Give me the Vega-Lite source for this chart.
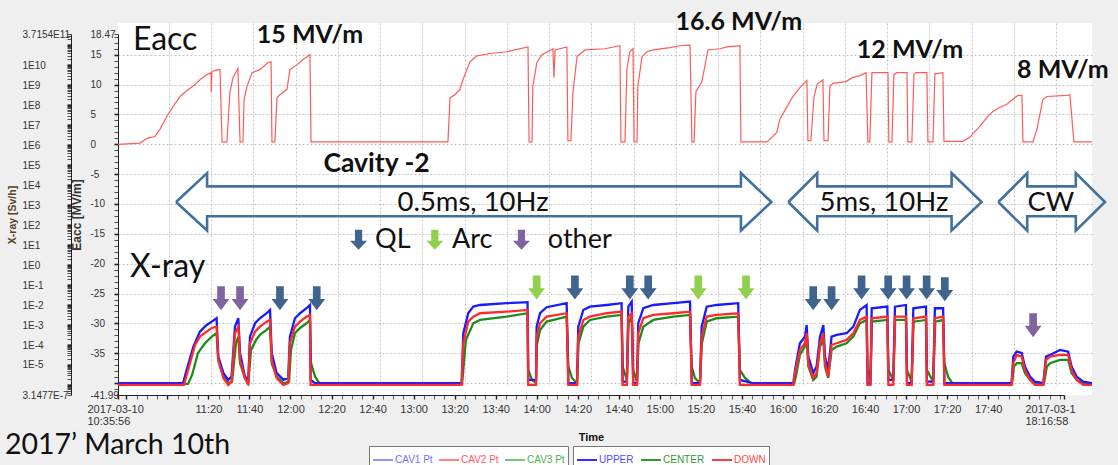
{
  "$schema": "https://vega.github.io/schema/vega-lite/v6.json",
  "width": 974,
  "height": 372,
  "autosize": {"type": "none"},
  "padding": {"left": 118, "top": 23, "right": 26, "bottom": 70},
  "background": "#efefef",
  "config": {
    "view": {"fill": "white", "stroke": null},
    "axis": {"domainColor": "#222", "tickColor": "#222", "labelColor": "#333"}
  },
  "datasets": {
    "eacc": [
      {"m": 35.9, "e": 0}, {"m": 46.3, "e": 0.2}, {"m": 49.7, "e": 1.0}, {"m": 53.4, "e": 1.3}, {"m": 55.8, "e": 2.5},
      {"m": 59.1, "e": 4.7}, {"m": 62.0, "e": 6.3}, {"m": 65.3, "e": 8.0}, {"m": 68.6, "e": 9.0}, {"m": 71.4, "e": 9.7},
      {"m": 74.7, "e": 10.8}, {"m": 78.1, "e": 11.7}, {"m": 80.0, "e": 12.0}, {"m": 80.1, "e": 8.7}, {"m": 80.4, "e": 12.2},
      {"m": 83.3, "e": 12.5}, {"m": 84.2, "e": 12.5}, {"m": 85.2, "e": 0.4}, {"m": 87.5, "e": 0.4}, {"m": 88.9, "e": 8.7},
      {"m": 90.4, "e": 11.2}, {"m": 92.7, "e": 12.7}, {"m": 93.7, "e": 0.4}, {"m": 95.1, "e": 0.4}, {"m": 95.6, "e": 7.5},
      {"m": 97.0, "e": 9.7}, {"m": 99.4, "e": 12.0}, {"m": 103.1, "e": 12.5}, {"m": 106.9, "e": 13.7}, {"m": 108.4, "e": 13.8},
      {"m": 108.8, "e": 0.4}, {"m": 110.2, "e": 0.4}, {"m": 111.2, "e": 7.8}, {"m": 112.6, "e": 8.3}, {"m": 115.9, "e": 9.2},
      {"m": 117.3, "e": 12.5}, {"m": 120.6, "e": 13.3}, {"m": 123.5, "e": 14.2}, {"m": 126.8, "e": 15.0}, {"m": 127.3, "e": 0.4},
      {"m": 192.1, "e": 0.4}, {"m": 193.1, "e": 7.8}, {"m": 195.4, "e": 8.3}, {"m": 197.8, "e": 9.2}, {"m": 199.2, "e": 10.8},
      {"m": 202.5, "e": 13.8}, {"m": 205.8, "e": 14.8}, {"m": 212.0, "e": 15.2}, {"m": 220.0, "e": 15.5}, {"m": 230.0, "e": 16.3},
      {"m": 230.5, "e": 0.4}, {"m": 231.9, "e": 0.4}, {"m": 232.3, "e": 9.7}, {"m": 234.2, "e": 13.7}, {"m": 236.6, "e": 15.0},
      {"m": 241.8, "e": 16.0}, {"m": 242.3, "e": 11.2}, {"m": 242.8, "e": 15.8}, {"m": 248.4, "e": 16.3}, {"m": 248.9, "e": 0.6},
      {"m": 250.3, "e": 0.6}, {"m": 251.3, "e": 8.7}, {"m": 253.2, "e": 14.7}, {"m": 257.0, "e": 15.8}, {"m": 266.4, "e": 16.0},
      {"m": 273.5, "e": 16.5}, {"m": 274.0, "e": 0.4}, {"m": 275.9, "e": 0.4}, {"m": 276.8, "e": 12.5}, {"m": 278.2, "e": 15.5},
      {"m": 279.7, "e": 16.0}, {"m": 280.2, "e": 0.4}, {"m": 281.6, "e": 0.4}, {"m": 282.0, "e": 9.7}, {"m": 284.0, "e": 14.7},
      {"m": 286.3, "e": 15.5}, {"m": 289.2, "e": 15.8}, {"m": 297.2, "e": 16.2}, {"m": 301.9, "e": 16.5}, {"m": 306.7, "e": 16.6},
      {"m": 307.6, "e": 0.4}, {"m": 308.6, "e": 0.4}, {"m": 309.5, "e": 8.8}, {"m": 312.3, "e": 10.5}, {"m": 315.2, "e": 15.8},
      {"m": 320.9, "e": 16.0}, {"m": 324.2, "e": 16.3}, {"m": 330.3, "e": 16.5}, {"m": 330.8, "e": 0.4}, {"m": 343.1, "e": 0.4},
      {"m": 345.5, "e": 1.2}, {"m": 347.8, "e": 2.0}, {"m": 349.2, "e": 4.2}, {"m": 352.6, "e": 6.3}, {"m": 355.4, "e": 8.0},
      {"m": 358.7, "e": 9.5}, {"m": 362.0, "e": 10.7}, {"m": 362.5, "e": 0.6}, {"m": 363.9, "e": 0.6}, {"m": 365.4, "e": 8.0},
      {"m": 366.8, "e": 10.0}, {"m": 369.6, "e": 10.8}, {"m": 370.1, "e": 0.6}, {"m": 372.0, "e": 0.6}, {"m": 372.9, "e": 9.7},
      {"m": 374.3, "e": 10.2}, {"m": 380.5, "e": 10.5}, {"m": 383.8, "e": 11.2}, {"m": 387.1, "e": 11.5}, {"m": 390.0, "e": 12.0},
      {"m": 390.9, "e": 0.4}, {"m": 391.8, "e": 0.4}, {"m": 392.8, "e": 12.0}, {"m": 400.4, "e": 12.0}, {"m": 400.8, "e": 0.4},
      {"m": 402.3, "e": 0.4}, {"m": 403.2, "e": 11.7}, {"m": 404.6, "e": 12.0}, {"m": 409.4, "e": 12.0}, {"m": 409.8, "e": 0.4},
      {"m": 411.7, "e": 0.4}, {"m": 412.7, "e": 11.7}, {"m": 413.6, "e": 12.0}, {"m": 418.8, "e": 12.0}, {"m": 419.3, "e": 0.4},
      {"m": 421.7, "e": 0.4}, {"m": 422.6, "e": 11.8}, {"m": 426.4, "e": 12.0}, {"m": 426.9, "e": 0.5}, {"m": 435.9, "e": 0.5},
      {"m": 439.2, "e": 1.2}, {"m": 442.5, "e": 2.5}, {"m": 443.9, "e": 3.0}, {"m": 447.2, "e": 4.5}, {"m": 450.1, "e": 5.5},
      {"m": 453.4, "e": 6.2}, {"m": 456.7, "e": 6.7}, {"m": 459.5, "e": 7.5}, {"m": 461.9, "e": 8.2}, {"m": 463.8, "e": 8.2},
      {"m": 464.3, "e": 0.4}, {"m": 469.0, "e": 0.4}, {"m": 470.9, "e": 2.5}, {"m": 473.7, "e": 7.5}, {"m": 475.6, "e": 8.0},
      {"m": 485.1, "e": 8.2}, {"m": 486.5, "e": 8.3}, {"m": 488.4, "e": 0.4}, {"m": 496.9, "e": 0.4}
    ],
    "upper": [
      {"m": 35.9, "v": 1.22e-6}, {"m": 66.7, "v": 1.22e-6}, {"m": 68.4, "v": 5.66e-6}, {"m": 71.6, "v": 8.32e-5}, {"m": 74.7, "v": 4.68e-4},
      {"m": 77.9, "v": 1.01e-3}, {"m": 80.3, "v": 1.48e-3}, {"m": 82.6, "v": 2.19e-3}, {"m": 83.4, "v": 2.62e-5}, {"m": 85.8, "v": 4.01e-6},
      {"m": 88.1, "v": 1.79e-6}, {"m": 89.7, "v": 2.62e-6}, {"m": 91.3, "v": 8.34e-4}, {"m": 92.9, "v": 2.19e-3}, {"m": 93.7, "v": 4.02e-5},
      {"m": 96.0, "v": 2.62e-6}, {"m": 97.6, "v": 1.79e-6}, {"m": 98.4, "v": 2.63e-4}, {"m": 100.8, "v": 1.23e-3}, {"m": 103.1, "v": 2.19e-3},
      {"m": 106.3, "v": 3.90e-3}, {"m": 107.9, "v": 5.70e-3}, {"m": 108.7, "v": 4.02e-5}, {"m": 111.0, "v": 4.01e-6}, {"m": 114.2, "v": 1.79e-6},
      {"m": 116.5, "v": 2.25e-6}, {"m": 117.3, "v": 2.63e-4}, {"m": 119.7, "v": 2.19e-3}, {"m": 122.1, "v": 3.90e-3}, {"m": 125.2, "v": 6.93e-3},
      {"m": 126.8, "v": 1.01e-2}, {"m": 127.1, "v": 1.79e-6}, {"m": 129.2, "v": 1.22e-6}, {"m": 198.6, "v": 1.22e-6}, {"m": 199.4, "v": 3.89e-4},
      {"m": 201.7, "v": 3.90e-3}, {"m": 204.1, "v": 8.34e-3}, {"m": 207.3, "v": 1.01e-2}, {"m": 219.9, "v": 1.24e-2}, {"m": 229.8, "v": 1.39e-2},
      {"m": 230.1, "v": 1.79e-6}, {"m": 233.8, "v": 1.79e-6}, {"m": 234.1, "v": 8.34e-4}, {"m": 235.7, "v": 3.90e-3}, {"m": 238.8, "v": 7.78e-3},
      {"m": 248.3, "v": 1.24e-2}, {"m": 249.1, "v": 1.22e-6}, {"m": 253.2, "v": 1.22e-6}, {"m": 253.8, "v": 8.34e-4}, {"m": 256.2, "v": 5.70e-3},
      {"m": 259.3, "v": 8.34e-3}, {"m": 267.2, "v": 1.01e-2}, {"m": 274.3, "v": 1.24e-2}, {"m": 274.8, "v": 1.47e-6}, {"m": 276.8, "v": 1.47e-6},
      {"m": 277.5, "v": 8.34e-3}, {"m": 279.1, "v": 1.49e-2}, {"m": 279.8, "v": 1.22e-6}, {"m": 281.6, "v": 1.22e-6}, {"m": 282.2, "v": 1.23e-3},
      {"m": 284.6, "v": 6.93e-3}, {"m": 289.3, "v": 1.01e-2}, {"m": 298.8, "v": 1.24e-2}, {"m": 306.7, "v": 1.49e-2}, {"m": 307.5, "v": 1.22e-6},
      {"m": 311.4, "v": 1.22e-6}, {"m": 312.2, "v": 8.34e-4}, {"m": 314.6, "v": 8.34e-3}, {"m": 319.3, "v": 1.01e-2}, {"m": 329.5, "v": 1.24e-2},
      {"m": 330.3, "v": 1.79e-6}, {"m": 336.6, "v": 1.22e-6}, {"m": 355.6, "v": 1.22e-6}, {"m": 356.4, "v": 5.66e-6}, {"m": 358.7, "v": 1.23e-4},
      {"m": 361.1, "v": 2.63e-4}, {"m": 361.9, "v": 1.01e-3}, {"m": 362.7, "v": 2.62e-5}, {"m": 365.0, "v": 4.01e-6}, {"m": 366.6, "v": 8.30e-6},
      {"m": 368.2, "v": 2.63e-4}, {"m": 369.8, "v": 1.01e-3}, {"m": 370.6, "v": 2.62e-5}, {"m": 372.1, "v": 5.66e-6}, {"m": 373.7, "v": 2.63e-4},
      {"m": 376.1, "v": 3.20e-4}, {"m": 380.8, "v": 3.89e-4}, {"m": 384.0, "v": 8.34e-4}, {"m": 387.1, "v": 5.70e-3}, {"m": 390.3, "v": 1.01e-2},
      {"m": 390.7, "v": 1.22e-6}, {"m": 392.1, "v": 1.22e-6}, {"m": 392.7, "v": 6.93e-3}, {"m": 400.1, "v": 8.34e-3}, {"m": 400.6, "v": 1.79e-6},
      {"m": 402.9, "v": 1.79e-6}, {"m": 403.7, "v": 8.34e-3}, {"m": 408.9, "v": 1.01e-2}, {"m": 409.4, "v": 1.22e-6}, {"m": 411.6, "v": 1.22e-6},
      {"m": 412.4, "v": 6.93e-3}, {"m": 418.4, "v": 8.34e-3}, {"m": 418.8, "v": 1.47e-6}, {"m": 421.8, "v": 1.47e-6}, {"m": 422.6, "v": 6.93e-3},
      {"m": 426.5, "v": 6.93e-3}, {"m": 427.1, "v": 1.22e-6}, {"m": 458.9, "v": 1.22e-6}, {"m": 459.7, "v": 2.62e-5}, {"m": 461.3, "v": 4.67e-5},
      {"m": 463.7, "v": 4.02e-5}, {"m": 465.2, "v": 8.30e-6}, {"m": 467.6, "v": 2.62e-6}, {"m": 469.9, "v": 1.47e-6}, {"m": 473.9, "v": 1.22e-6},
      {"m": 475.2, "v": 2.62e-5}, {"m": 477.1, "v": 3.19e-5}, {"m": 481.8, "v": 5.68e-5}, {"m": 485.7, "v": 4.67e-5}, {"m": 487.3, "v": 8.30e-6},
      {"m": 489.7, "v": 2.62e-6}, {"m": 492.8, "v": 1.47e-6}, {"m": 496.9, "v": 1.22e-6}
    ],
    "down": [
      {"m": 35.9, "v": 1.01e-6}, {"m": 67.2, "v": 1.01e-6}, {"m": 69.1, "v": 5.66e-6}, {"m": 72.4, "v": 1.01e-4}, {"m": 74.7, "v": 2.63e-4},
      {"m": 77.9, "v": 4.68e-4}, {"m": 80.3, "v": 7.16e-4}, {"m": 82.6, "v": 8.34e-4}, {"m": 83.4, "v": 1.79e-5}, {"m": 85.8, "v": 2.25e-6},
      {"m": 88.1, "v": 1.01e-6}, {"m": 89.7, "v": 1.47e-6}, {"m": 91.3, "v": 3.89e-4}, {"m": 92.9, "v": 8.34e-4}, {"m": 93.7, "v": 1.79e-5},
      {"m": 96.0, "v": 2.25e-6}, {"m": 97.6, "v": 1.01e-6}, {"m": 98.4, "v": 1.23e-4}, {"m": 100.8, "v": 4.68e-4}, {"m": 103.1, "v": 8.34e-4},
      {"m": 106.3, "v": 1.48e-3}, {"m": 107.9, "v": 1.80e-3}, {"m": 108.7, "v": 1.79e-5}, {"m": 111.0, "v": 2.25e-6}, {"m": 114.2, "v": 1.01e-6},
      {"m": 116.5, "v": 1.22e-6}, {"m": 117.3, "v": 1.23e-4}, {"m": 119.7, "v": 8.34e-4}, {"m": 122.1, "v": 1.48e-3}, {"m": 125.2, "v": 2.64e-3},
      {"m": 126.8, "v": 3.21e-3}, {"m": 127.1, "v": 1.01e-6}, {"m": 198.6, "v": 1.01e-6}, {"m": 199.4, "v": 1.23e-4}, {"m": 201.7, "v": 1.48e-3},
      {"m": 204.1, "v": 2.64e-3}, {"m": 207.3, "v": 3.90e-3}, {"m": 219.9, "v": 4.69e-3}, {"m": 229.8, "v": 5.70e-3}, {"m": 230.1, "v": 1.01e-6},
      {"m": 233.8, "v": 1.01e-6}, {"m": 234.1, "v": 2.63e-4}, {"m": 235.7, "v": 1.23e-3}, {"m": 238.8, "v": 2.64e-3}, {"m": 248.3, "v": 3.90e-3},
      {"m": 249.1, "v": 1.01e-6}, {"m": 253.2, "v": 1.01e-6}, {"m": 253.8, "v": 2.63e-4}, {"m": 256.2, "v": 1.80e-3}, {"m": 259.3, "v": 2.64e-3},
      {"m": 267.2, "v": 3.90e-3}, {"m": 274.3, "v": 4.69e-3}, {"m": 274.8, "v": 1.01e-6}, {"m": 276.8, "v": 1.01e-6}, {"m": 277.5, "v": 2.64e-3},
      {"m": 279.1, "v": 3.90e-3}, {"m": 279.8, "v": 1.01e-6}, {"m": 281.6, "v": 1.01e-6}, {"m": 282.2, "v": 3.89e-4}, {"m": 284.6, "v": 2.19e-3},
      {"m": 289.3, "v": 3.21e-3}, {"m": 298.8, "v": 3.90e-3}, {"m": 306.7, "v": 4.69e-3}, {"m": 307.5, "v": 1.01e-6}, {"m": 311.4, "v": 1.01e-6},
      {"m": 312.2, "v": 2.63e-4}, {"m": 314.6, "v": 2.64e-3}, {"m": 319.3, "v": 3.21e-3}, {"m": 329.5, "v": 3.90e-3}, {"m": 330.3, "v": 1.01e-6},
      {"m": 355.6, "v": 1.01e-6}, {"m": 356.4, "v": 4.01e-6}, {"m": 358.7, "v": 5.68e-5}, {"m": 361.1, "v": 1.23e-4}, {"m": 361.9, "v": 3.89e-4},
      {"m": 362.7, "v": 1.23e-5}, {"m": 365.0, "v": 2.25e-6}, {"m": 366.6, "v": 4.01e-6}, {"m": 368.2, "v": 1.23e-4}, {"m": 369.8, "v": 3.89e-4},
      {"m": 370.6, "v": 1.23e-5}, {"m": 372.1, "v": 2.62e-6}, {"m": 373.7, "v": 1.01e-4}, {"m": 376.1, "v": 1.23e-4}, {"m": 380.8, "v": 1.80e-4},
      {"m": 384.0, "v": 3.89e-4}, {"m": 387.1, "v": 1.80e-3}, {"m": 390.3, "v": 2.64e-3}, {"m": 390.7, "v": 1.01e-6}, {"m": 392.1, "v": 1.01e-6},
      {"m": 392.7, "v": 2.19e-3}, {"m": 400.1, "v": 2.64e-3}, {"m": 400.6, "v": 1.01e-6}, {"m": 402.9, "v": 1.01e-6}, {"m": 403.7, "v": 2.64e-3},
      {"m": 408.9, "v": 2.64e-3}, {"m": 409.4, "v": 1.01e-6}, {"m": 411.6, "v": 1.01e-6}, {"m": 412.4, "v": 2.19e-3}, {"m": 418.4, "v": 2.64e-3},
      {"m": 418.8, "v": 1.01e-6}, {"m": 421.8, "v": 1.01e-6}, {"m": 422.6, "v": 2.19e-3}, {"m": 426.5, "v": 2.64e-3}, {"m": 427.1, "v": 1.01e-6},
      {"m": 458.9, "v": 1.01e-6}, {"m": 459.7, "v": 1.23e-5}, {"m": 461.3, "v": 3.19e-5}, {"m": 463.7, "v": 2.62e-5}, {"m": 465.2, "v": 5.66e-6},
      {"m": 467.6, "v": 1.79e-6}, {"m": 469.9, "v": 1.01e-6}, {"m": 473.9, "v": 1.01e-6}, {"m": 475.2, "v": 1.79e-5}, {"m": 477.1, "v": 2.62e-5},
      {"m": 481.8, "v": 3.19e-5}, {"m": 485.7, "v": 3.19e-5}, {"m": 487.3, "v": 5.66e-6}, {"m": 489.7, "v": 1.79e-6}, {"m": 492.8, "v": 1.01e-6},
      {"m": 496.9, "v": 1.01e-6}
    ],
    "center": [
      {"m": 35.9, "v": 1.13e-6}, {"m": 69.1, "v": 1.13e-6}, {"m": 71.0, "v": 3.18e-6}, {"m": 73.8, "v": 4.02e-5}, {"m": 77.1, "v": 1.23e-4},
      {"m": 80.3, "v": 2.63e-4}, {"m": 82.6, "v": 3.89e-4}, {"m": 83.4, "v": 1.79e-5}, {"m": 85.8, "v": 2.62e-6}, {"m": 88.1, "v": 1.22e-6},
      {"m": 89.9, "v": 1.47e-6}, {"m": 91.8, "v": 1.23e-4}, {"m": 92.9, "v": 2.63e-4}, {"m": 93.7, "v": 1.23e-5}, {"m": 96.0, "v": 2.25e-6},
      {"m": 97.6, "v": 1.22e-6}, {"m": 98.9, "v": 5.68e-5}, {"m": 101.3, "v": 1.80e-4}, {"m": 103.1, "v": 3.20e-4}, {"m": 106.3, "v": 5.69e-4},
      {"m": 107.9, "v": 8.34e-4}, {"m": 108.7, "v": 1.23e-5}, {"m": 111.0, "v": 2.62e-6}, {"m": 114.2, "v": 1.22e-6}, {"m": 116.9, "v": 1.47e-6},
      {"m": 117.8, "v": 5.68e-5}, {"m": 119.7, "v": 3.89e-4}, {"m": 122.1, "v": 7.16e-4}, {"m": 125.2, "v": 1.23e-3}, {"m": 126.8, "v": 1.80e-3},
      {"m": 127.3, "v": 1.23e-5}, {"m": 129.2, "v": 2.62e-6}, {"m": 131.5, "v": 1.13e-6}, {"m": 198.8, "v": 1.13e-6}, {"m": 200.6, "v": 1.80e-4},
      {"m": 204.1, "v": 1.23e-3}, {"m": 207.3, "v": 1.80e-3}, {"m": 219.9, "v": 2.64e-3}, {"m": 229.8, "v": 3.90e-3}, {"m": 230.1, "v": 5.66e-6},
      {"m": 231.9, "v": 1.79e-6}, {"m": 233.8, "v": 1.22e-6}, {"m": 234.2, "v": 1.01e-4}, {"m": 235.7, "v": 5.69e-4}, {"m": 238.8, "v": 1.48e-3},
      {"m": 248.3, "v": 2.64e-3}, {"m": 249.1, "v": 8.30e-6}, {"m": 250.8, "v": 2.25e-6}, {"m": 253.2, "v": 1.22e-6}, {"m": 253.9, "v": 1.23e-4},
      {"m": 256.2, "v": 8.34e-4}, {"m": 259.3, "v": 1.80e-3}, {"m": 267.2, "v": 2.64e-3}, {"m": 274.3, "v": 3.21e-3}, {"m": 274.8, "v": 8.30e-6},
      {"m": 276.8, "v": 1.79e-6}, {"m": 277.6, "v": 1.23e-3}, {"m": 279.1, "v": 2.64e-3}, {"m": 279.8, "v": 5.66e-6}, {"m": 281.6, "v": 1.47e-6},
      {"m": 282.3, "v": 1.23e-4}, {"m": 284.6, "v": 8.34e-4}, {"m": 289.3, "v": 1.80e-3}, {"m": 298.8, "v": 2.64e-3}, {"m": 306.7, "v": 3.21e-3},
      {"m": 307.5, "v": 8.30e-6}, {"m": 309.0, "v": 2.25e-6}, {"m": 311.4, "v": 1.22e-6}, {"m": 312.3, "v": 1.23e-4}, {"m": 314.6, "v": 1.48e-3},
      {"m": 319.3, "v": 2.19e-3}, {"m": 329.5, "v": 2.64e-3}, {"m": 330.3, "v": 5.66e-6}, {"m": 332.7, "v": 2.25e-6}, {"m": 336.0, "v": 1.13e-6},
      {"m": 355.9, "v": 1.13e-6}, {"m": 356.8, "v": 2.62e-6}, {"m": 358.7, "v": 3.19e-5}, {"m": 361.1, "v": 8.32e-5}, {"m": 361.9, "v": 1.80e-4},
      {"m": 362.7, "v": 8.30e-6}, {"m": 365.0, "v": 1.79e-6}, {"m": 366.6, "v": 2.62e-6}, {"m": 368.2, "v": 8.32e-5}, {"m": 369.8, "v": 1.80e-4},
      {"m": 370.6, "v": 8.30e-6}, {"m": 372.1, "v": 2.25e-6}, {"m": 373.7, "v": 5.68e-5}, {"m": 376.1, "v": 8.32e-5}, {"m": 380.8, "v": 1.23e-4},
      {"m": 384.0, "v": 2.63e-4}, {"m": 387.1, "v": 1.23e-3}, {"m": 390.3, "v": 1.80e-3}, {"m": 390.7, "v": 5.66e-6}, {"m": 392.1, "v": 1.79e-6},
      {"m": 392.8, "v": 1.48e-3}, {"m": 400.1, "v": 1.80e-3}, {"m": 400.6, "v": 5.66e-6}, {"m": 402.9, "v": 1.79e-6}, {"m": 403.8, "v": 1.80e-3},
      {"m": 408.9, "v": 1.80e-3}, {"m": 409.4, "v": 5.66e-6}, {"m": 411.6, "v": 1.47e-6}, {"m": 412.5, "v": 1.48e-3}, {"m": 418.4, "v": 1.80e-3},
      {"m": 418.8, "v": 5.66e-6}, {"m": 421.8, "v": 1.47e-6}, {"m": 422.8, "v": 1.48e-3}, {"m": 426.5, "v": 1.80e-3}, {"m": 427.1, "v": 1.23e-5},
      {"m": 428.8, "v": 2.62e-6}, {"m": 431.1, "v": 1.13e-6}, {"m": 459.1, "v": 1.13e-6}, {"m": 460.0, "v": 8.30e-6}, {"m": 461.4, "v": 1.23e-5},
      {"m": 463.7, "v": 1.23e-5}, {"m": 465.2, "v": 4.01e-6}, {"m": 467.6, "v": 1.79e-6}, {"m": 470.9, "v": 1.13e-6}, {"m": 474.2, "v": 1.13e-6},
      {"m": 475.6, "v": 8.30e-6}, {"m": 477.1, "v": 1.23e-5}, {"m": 481.8, "v": 1.79e-5}, {"m": 485.7, "v": 1.79e-5}, {"m": 487.3, "v": 4.01e-6},
      {"m": 489.7, "v": 1.79e-6}, {"m": 493.6, "v": 1.13e-6}, {"m": 496.9, "v": 1.13e-6}
    ],
    "spans": [
      {"id": "A", "k": 1, "m": 63.4, "e": -9.67}, {"id": "A", "k": 2, "m": 78.1, "e": -4.83}, {"id": "A", "k": 3, "m": 78.1, "e": -7.05},
      {"id": "A", "k": 4, "m": 330.8, "e": -7.05}, {"id": "A", "k": 5, "m": 330.8, "e": -4.83}, {"id": "A", "k": 6, "m": 345.2, "e": -9.67},
      {"id": "A", "k": 7, "m": 330.8, "e": -14.45}, {"id": "A", "k": 8, "m": 330.8, "e": -12.05}, {"id": "A", "k": 9, "m": 78.1, "e": -12.05},
      {"id": "A", "k": 10, "m": 78.1, "e": -14.45}, {"id": "A", "k": 11, "m": 63.4, "e": -9.67},
      {"id": "B", "k": 1, "m": 353.2, "e": -9.67}, {"id": "B", "k": 2, "m": 366.9, "e": -4.83}, {"id": "B", "k": 3, "m": 366.9, "e": -7.05},
      {"id": "B", "k": 4, "m": 430.5, "e": -7.05}, {"id": "B", "k": 5, "m": 430.5, "e": -4.83}, {"id": "B", "k": 6, "m": 444.7, "e": -9.67},
      {"id": "B", "k": 7, "m": 430.5, "e": -14.45}, {"id": "B", "k": 8, "m": 430.5, "e": -12.05}, {"id": "B", "k": 9, "m": 366.9, "e": -12.05},
      {"id": "B", "k": 10, "m": 366.9, "e": -14.45}, {"id": "B", "k": 11, "m": 353.2, "e": -9.67},
      {"id": "C", "k": 1, "m": 452.6, "e": -9.67}, {"id": "C", "k": 2, "m": 466.3, "e": -4.83}, {"id": "C", "k": 3, "m": 466.3, "e": -7.05},
      {"id": "C", "k": 4, "m": 489.3, "e": -7.05}, {"id": "C", "k": 5, "m": 489.3, "e": -4.83}, {"id": "C", "k": 6, "m": 503.1, "e": -9.67},
      {"id": "C", "k": 7, "m": 489.3, "e": -14.45}, {"id": "C", "k": 8, "m": 489.3, "e": -12.05}, {"id": "C", "k": 9, "m": 466.3, "e": -12.05},
      {"id": "C", "k": 10, "m": 466.3, "e": -14.45}, {"id": "C", "k": 11, "m": 452.6, "e": -9.67}
    ],
    "events": [
      {"m": 84.7, "e": -25.8, "cause": "other"}, {"m": 93.7, "e": -25.8, "cause": "other"},
      {"m": 112.6, "e": -25.8, "cause": "QL"}, {"m": 130.0, "e": -25.8, "cause": "QL"},
      {"m": 234.1, "e": -24.0, "cause": "Arc"}, {"m": 252.2, "e": -24.0, "cause": "QL"},
      {"m": 278.2, "e": -24.0, "cause": "QL"}, {"m": 286.9, "e": -24.0, "cause": "QL"},
      {"m": 310.6, "e": -24.0, "cause": "Arc"}, {"m": 333.2, "e": -24.0, "cause": "Arc"},
      {"m": 365.0, "e": -25.8, "cause": "QL"}, {"m": 373.7, "e": -25.8, "cause": "QL"},
      {"m": 387.9, "e": -24.0, "cause": "QL"}, {"m": 400.5, "e": -24.0, "cause": "QL"},
      {"m": 409.2, "e": -24.0, "cause": "QL"}, {"m": 418.7, "e": -24.0, "cause": "QL"},
      {"m": 427.3, "e": -24.3, "cause": "QL"}, {"m": 469.1, "e": -30.3, "cause": "other"}
    ],
    "causeKey": [
      {"m": 149.8, "e": -16, "cause": "QL"}, {"m": 185.9, "e": -16, "cause": "Arc"}, {"m": 226.9, "e": -16, "cause": "other"}
    ],
    "notes": [
      {"txt": "Eacc", "m": 43.0, "e": 17.5, "role": "big"},
      {"txt": "X-ray", "m": 41.6, "e": -20.5, "role": "big"},
      {"txt": "15 MV/m", "m": 126.8, "e": 18.3, "role": "field"},
      {"txt": "16.6 MV/m", "m": 329.8, "e": 20.5, "role": "field"},
      {"txt": "12 MV/m", "m": 410.8, "e": 15.8, "role": "field"},
      {"txt": "8 MV/m", "m": 483.2, "e": 12.5, "role": "field"},
      {"txt": "Cavity -2", "m": 158.3, "e": -3.33, "role": "cavity"},
      {"txt": "0.5ms, 10Hz", "m": 204.0, "e": -9.83, "role": "mode"},
      {"txt": "5ms, 10Hz", "m": 398.5, "e": -9.83, "role": "mode"},
      {"txt": "CW", "m": 477.5, "e": -9.83, "role": "mode"},
      {"txt": "QL", "m": 157.6, "e": -16, "role": "key"},
      {"txt": "Arc", "m": 194.0, "e": -16, "role": "key"},
      {"txt": "other", "m": 239.4, "e": -16, "role": "key"},
      {"txt": "2017’ March 10th", "m": -17.6, "e": -50.4, "role": "date"}
    ]
  },
  "resolve": {"scale": {"x": "independent", "y": "independent"}},
  "layer": [
    {
      "encoding": {
        "x": {
          "field": "m", "type": "quantitative",
          "scale": {"domain": [35.933, 496.967], "nice": false, "zero": false},
          "axis": {
            "values": [60, 80, 100, 120, 140, 160, 180, 200, 220, 240, 260, 280, 300, 320, 340, 360, 380, 400, 420, 440, 460, 480],
            "grid": true, "gridColor": "#c4c4c4", "gridDash": [2, 2], "gridWidth": 1,
            "ticks": false, "labels": false, "domain": false, "title": null
          }
        },
        "y": {
          "field": "e", "type": "quantitative",
          "scale": {"domain": [-41.99, 18.47], "range": [372, 11], "nice": false, "zero": false},
          "axis": {
            "orient": "left",
            "values": [18.47, 18, 17, 16, 15, 14, 13, 12, 11, 10, 9, 8, 7, 6, 5, 4, 3, 2, 1, 0, -1, -2, -3, -4, -5, -6, -7, -8, -9, -10, -11, -12, -13, -14, -15, -16, -17, -18, -19, -20, -21, -22, -23, -24, -25, -26, -27, -28, -29, -30, -31, -32, -33, -34, -35, -36, -37, -38, -39, -40, -41, -41.99],
            "labelExpr": "(datum.value == 18.47 || datum.value == -41.99) ? '' + datum.value : (datum.value % 5 == 0 && datum.value > -40) ? '' + datum.value : ''",
            "labelAlign": "left", "labelBaseline": "middle", "labelPadding": 24,
            "labelFont": "Liberation Sans Narrow, Liberation Sans, sans-serif", "labelFontSize": 10,
            "labelOverlap": false, "labelFlush": false, "labelBound": false,
            "tickSize": 4,
            "tickWidth": {"condition": {"test": "datum.value % 5 == 0", "value": 1.6}, "value": 0.8},
            "grid": true, "gridColor": "#c4c4c4", "gridDash": [2, 2],
            "gridOpacity": {"condition": {"test": "datum.value % 5 == 0", "value": 1}, "value": 0},
            "title": "Eacc [MV/m]", "titleFont": "Liberation Sans", "titleFontWeight": "bold",
            "titleFontSize": 12, "titleColor": "#333", "titleX": -35
          }
        }
      },
      "layer": [
        {
          "data": {"name": "eacc"},
          "mark": {"type": "line", "strokeWidth": 1.2, "interpolate": "linear"},
          "encoding": {
            "stroke": {
              "datum": "CAV2 Pt", "type": "nominal",
              "scale": {"domain": ["CAV1 Pt", "CAV2 Pt", "CAV3 Pt"], "range": ["#6f6fff", "#ff5a5a", "#4caf4c"]},
              "legend": {
                "orient": "none", "legendX": 251, "legendY": 423, "direction": "horizontal", "title": null,
                "symbolType": "stroke", "symbolSize": 400, "symbolStrokeWidth": 1.5,
                "labelFont": "Liberation Sans", "labelFontSize": 10, "labelOffset": 1,
                "columnPadding": 3, "padding": 3, "strokeColor": "#777", "fillColor": "white",
                "encode": {"labels": {"update": {"fill": {"signal": "datum.value == 'CAV1 Pt' ? '#6f6fff' : datum.value == 'CAV2 Pt' ? '#ff5a5a' : '#4caf4c'"}}}}
              }
            }
          }
        },
        {
          "data": {"name": "spans"},
          "mark": {"type": "line", "stroke": "#41719c", "strokeWidth": 2.6, "strokeJoin": "miter", "clip": false},
          "encoding": {"order": {"field": "k", "type": "quantitative"}, "detail": {"field": "id"}}
        },
        {
          "data": {"name": "events"},
          "mark": {"type": "point", "filled": true, "opacity": 1, "size": 576,
                   "shape": "M-0.32,-1L0.32,-1L0.32,0.05L0.7,0.05L0,1L-0.7,0.05L-0.32,0.05Z"},
          "encoding": {
            "fill": {"field": "cause", "type": "nominal",
                     "scale": {"domain": ["QL", "Arc", "other"], "range": ["#41648f", "#8fd14f", "#8064a2"]},
                     "legend": null}
          }
        },
        {
          "data": {"name": "causeKey"},
          "mark": {"type": "point", "filled": true, "opacity": 1, "size": 400,
                   "shape": "M-0.36,-1L0.36,-1L0.36,0.1L0.85,0.1L0,1L-0.85,0.1L-0.36,0.1Z"},
          "encoding": {
            "fill": {"field": "cause", "type": "nominal",
                     "scale": {"domain": ["QL", "Arc", "other"], "range": ["#41648f", "#8fd14f", "#8064a2"]},
                     "legend": null}
          }
        },
        {
          "data": {"name": "notes"},
          "transform": [{"filter": "datum.role == 'big'"}],
          "mark": {"type": "text", "font": "Lato", "fontSize": 32, "align": "left", "baseline": "middle", "color": "#111"},
          "encoding": {"text": {"field": "txt"}}
        },
        {
          "data": {"name": "notes"},
          "transform": [{"filter": "datum.role == 'field'"}],
          "mark": {"type": "text", "font": "Lato", "fontSize": 25, "fontWeight": "bold", "align": "center", "baseline": "middle", "color": "#111"},
          "encoding": {"text": {"field": "txt"}}
        },
        {
          "data": {"name": "notes"},
          "transform": [{"filter": "datum.role == 'cavity'"}],
          "mark": {"type": "text", "font": "Lato", "fontSize": 26.5, "fontWeight": "bold", "align": "center", "baseline": "middle", "color": "#111"},
          "encoding": {"text": {"field": "txt"}}
        },
        {
          "data": {"name": "notes"},
          "transform": [{"filter": "datum.role == 'mode'"}],
          "mark": {"type": "text", "font": "Lato", "fontSize": 27.5, "align": "center", "baseline": "middle", "color": "#111"},
          "encoding": {"text": {"field": "txt"}}
        },
        {
          "data": {"name": "notes"},
          "transform": [{"filter": "datum.role == 'key'"}],
          "mark": {"type": "text", "font": "Lato", "fontSize": 27, "align": "left", "baseline": "middle", "color": "#111"},
          "encoding": {"text": {"field": "txt"}}
        },
        {
          "data": {"name": "notes"},
          "transform": [{"filter": "datum.role == 'date'"}],
          "mark": {"type": "text", "font": "Lato", "fontSize": 28.5, "align": "left", "baseline": "middle", "color": "#111", "clip": false},
          "encoding": {"text": {"field": "txt"}}
        }
      ]
    },
    {
      "encoding": {
        "x": {
          "field": "m", "type": "quantitative",
          "scale": {"domain": [35.933, 496.967], "nice": false, "zero": false},
          "axis": null
        },
        "y": {
          "field": "v", "type": "quantitative",
          "scale": {"type": "log", "domain": [3.1477e-7, 3.7154e11], "range": [372, 11], "nice": false},
          "axis": {
            "orient": "left", "offset": 47,
            "values": [3.1477e-7, 4e-7, 5e-7, 6e-7, 7e-7, 8e-7, 9e-7,
              1e-6, 2e-6, 3e-6, 4e-6, 5e-6, 6e-6, 7e-6, 8e-6, 9e-6,
              1e-5, 2e-5, 3e-5, 4e-5, 5e-5, 6e-5, 7e-5, 8e-5, 9e-5,
              1e-4, 2e-4, 3e-4, 4e-4, 5e-4, 6e-4, 7e-4, 8e-4, 9e-4,
              1e-3, 2e-3, 3e-3, 4e-3, 5e-3, 6e-3, 7e-3, 8e-3, 9e-3,
              1e-2, 2e-2, 3e-2, 4e-2, 5e-2, 6e-2, 7e-2, 8e-2, 9e-2,
              1e-1, 2e-1, 3e-1, 4e-1, 5e-1, 6e-1, 7e-1, 8e-1, 9e-1,
              1, 2, 3, 4, 5, 6, 7, 8, 9,
              1e1, 2e1, 3e1, 4e1, 5e1, 6e1, 7e1, 8e1, 9e1,
              1e2, 2e2, 3e2, 4e2, 5e2, 6e2, 7e2, 8e2, 9e2,
              1e3, 2e3, 3e3, 4e3, 5e3, 6e3, 7e3, 8e3, 9e3,
              1e4, 2e4, 3e4, 4e4, 5e4, 6e4, 7e4, 8e4, 9e4,
              1e5, 2e5, 3e5, 4e5, 5e5, 6e5, 7e5, 8e5, 9e5,
              1e6, 2e6, 3e6, 4e6, 5e6, 6e6, 7e6, 8e6, 9e6,
              1e7, 2e7, 3e7, 4e7, 5e7, 6e7, 7e7, 8e7, 9e7,
              1e8, 2e8, 3e8, 4e8, 5e8, 6e8, 7e8, 8e8, 9e8,
              1e9, 2e9, 3e9, 4e9, 5e9, 6e9, 7e9, 8e9, 9e9,
              1e10, 2e10, 3e10, 4e10, 5e10, 6e10, 7e10, 8e10, 9e10,
              1e11, 2e11, 3e11, 3.7154e11],
            "labelExpr": "datum.value == 3.7154e11 ? '3.7154E11' : datum.value == 3.1477e-7 ? '3.1477E-7' : (abs(log(datum.value) / LN10 - round(log(datum.value) / LN10)) < 1e-6 && datum.value <= 1e10 && datum.value >= 1e-5) ? '1E' + round(log(datum.value) / LN10) : ''",
            "labelAlign": "left", "labelBaseline": "middle", "labelPadding": 45,
            "labelFont": "Liberation Sans Narrow, Liberation Sans, sans-serif", "labelFontSize": 10,
            "labelOverlap": false, "labelFlush": false, "labelBound": false,
            "tickSize": 4,
            "tickWidth": {"condition": {"test": "abs(log(datum.value) / LN10 - round(log(datum.value) / LN10)) < 1e-6", "value": 2.2}, "value": 0.8},
            "grid": false,
            "title": "X-ray [Sv/h]", "titleFont": "Liberation Sans", "titleFontWeight": "bold",
            "titleFontSize": 10.5, "titleColor": "#5a4226", "titleX": -54
          }
        }
      },
      "layer": [
        {
          "data": {"name": "center"},
          "mark": {"type": "line", "strokeWidth": 2.3},
          "encoding": {
            "color": {
              "datum": "CENTER", "type": "nominal",
              "scale": {"domain": ["UPPER", "CENTER", "DOWN"], "range": ["#1a1aff", "#1a8c1a", "#ff2a2a"]},
              "legend": {
                "orient": "none", "legendX": 455, "legendY": 423, "direction": "horizontal", "title": null,
                "symbolType": "stroke", "symbolSize": 400, "symbolStrokeWidth": 1.8,
                "labelFont": "Liberation Sans", "labelFontSize": 10, "labelOffset": 1,
                "columnPadding": 3, "padding": 3, "strokeColor": "#777", "fillColor": "white",
                "encode": {"labels": {"update": {"fill": {"signal": "datum.value == 'UPPER' ? '#4b4bff' : datum.value == 'CENTER' ? '#2f9a2f' : '#ff4545'"}}}}
              }
            }
          }
        },
        {
          "data": {"name": "upper"},
          "mark": {"type": "line", "strokeWidth": 2.3},
          "encoding": {
            "color": {
              "datum": "UPPER", "type": "nominal",
              "scale": {"domain": ["UPPER", "CENTER", "DOWN"], "range": ["#1a1aff", "#1a8c1a", "#ff2a2a"]}
            }
          }
        },
        {
          "data": {"name": "down"},
          "mark": {"type": "line", "strokeWidth": 2.3},
          "encoding": {
            "color": {
              "datum": "DOWN", "type": "nominal",
              "scale": {"domain": ["UPPER", "CENTER", "DOWN"], "range": ["#1a1aff", "#1a8c1a", "#ff2a2a"]}
            }
          }
        }
      ]
    },
    {
      "data": {"values": [{"m": 35.933}, {"m": 496.967}]},
      "mark": {"type": "point", "opacity": 0},
      "encoding": {
        "x": {
          "field": "m", "type": "quantitative",
          "scale": {"domain": [35.933, 496.967], "range": [0, 946], "nice": false, "zero": false},
          "axis": {
            "orient": "bottom",
            "values": [35.933, 40, 45, 50, 55, 60, 65, 70, 75, 80, 85, 90, 95, 100, 105, 110, 115, 120, 125, 130, 135, 140, 145, 150, 155, 160, 165, 170, 175, 180, 185, 190, 195, 200, 205, 210, 215, 220, 225, 230, 235, 240, 245, 250, 255, 260, 265, 270, 275, 280, 285, 290, 295, 300, 305, 310, 315, 320, 325, 330, 335, 340, 345, 350, 355, 360, 365, 370, 375, 380, 385, 390, 395, 400, 405, 410, 415, 420, 425, 430, 435, 440, 445, 450, 455, 460, 465, 470, 475, 480, 485, 490, 495, 496.967],
            "labelExpr": "datum.value < 36 ? ['2017-03-10', '10:35:56'] : datum.value > 496 ? ['2017-03-1', '18:16:58'] : (datum.value % 20 == 0 && datum.value >= 80 && datum.value <= 460) ? (10 + floor(datum.value / 60)) + ':' + (datum.value % 60 < 10 ? '0' : '') + (datum.value % 60) : ''",
            "labelAlign": {"condition": {"test": "datum.value < 36 || datum.value > 496", "value": "left"}, "value": "center"},
            "labelOffset": {"condition": [{"test": "datum.value < 36", "value": -31}, {"test": "datum.value > 496", "value": -39}], "value": 0},
            "labelFont": "Liberation Sans Narrow, Liberation Sans, sans-serif", "labelFontSize": 11, "labelLineHeight": 12,
            "labelPadding": 4, "labelOverlap": false, "labelFlush": false, "labelBound": false,
            "tickSize": 4,
            "tickWidth": {"condition": {"test": "datum.value % 20 == 0 || datum.value < 36 || datum.value > 496", "value": 1.4}, "value": 0.7},
            "grid": false,
            "title": "Time", "titleFont": "Liberation Sans", "titleFontWeight": "bold", "titleFontSize": 11,
            "titleColor": "#111", "titleY": 36, "titleBaseline": "top"
          }
        }
      }
    }
  ]
}
